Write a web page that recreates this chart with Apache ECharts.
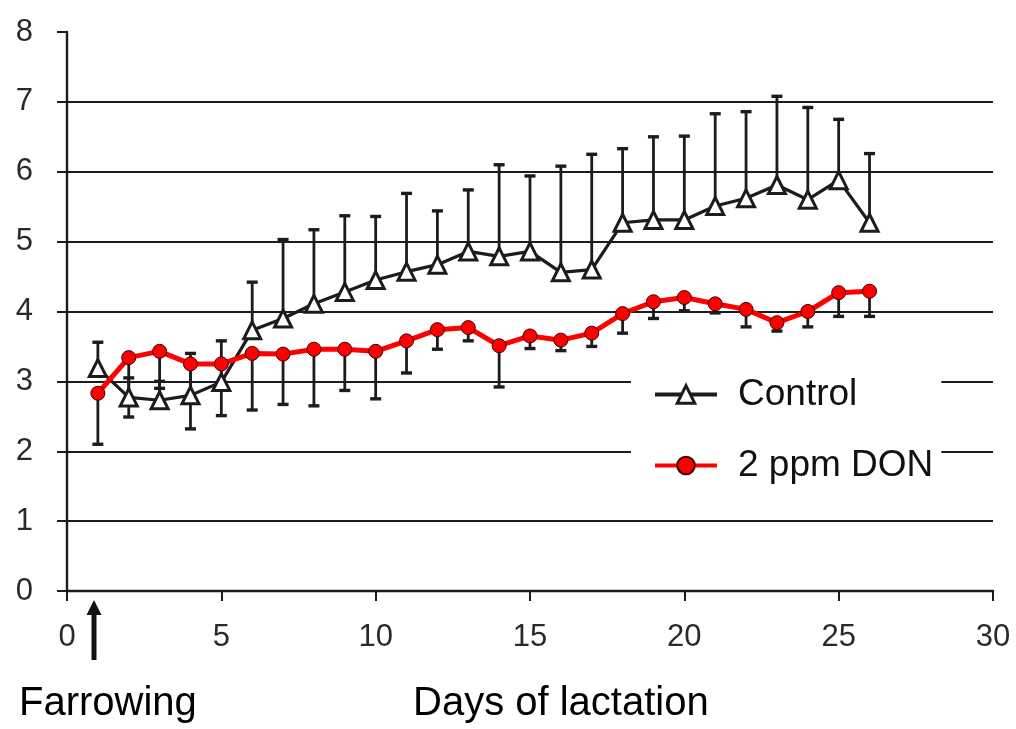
<!DOCTYPE html>
<html>
<head>
<meta charset="utf-8">
<script src="https://cdn.jsdelivr.net/npm/echarts@6/dist/echarts.min.js"></script>
<style>html,body{margin:0;padding:0;background:#fff}#c{width:1016px;height:729px}</style>
</head>
<body>
<div id="c"></div>
<script>
const days = [1,2,3,4,5,6,7,8,9,10,11,12,13,14,15,16,17,18,19,20,21,22,23,24,25,26];
const control = [3.19,2.77,2.73,2.80,2.99,3.73,3.90,4.11,4.28,4.45,4.57,4.67,4.86,4.79,4.86,4.56,4.60,5.27,5.31,5.31,5.51,5.62,5.81,5.60,5.88,5.27];
const controlUpper = [3.56,3.05,3.00,3.40,3.58,4.42,5.03,5.17,5.37,5.36,5.69,5.44,5.74,6.10,5.94,6.08,6.25,6.33,6.50,6.51,6.83,6.86,7.08,6.92,6.75,6.26];
const don = [2.83,3.34,3.43,3.25,3.25,3.40,3.39,3.46,3.46,3.43,3.58,3.74,3.77,3.51,3.65,3.59,3.69,3.97,4.14,4.20,4.11,4.03,3.84,4.00,4.27,4.29];
const donLower = [2.10,2.49,2.90,2.32,2.51,2.59,2.67,2.65,2.87,2.75,3.12,3.46,3.58,2.92,3.47,3.44,3.50,3.69,3.90,4.01,3.98,3.78,3.72,3.78,3.93,3.93];
const seriesNames = ['Control', '2 ppm DON'];
const xTitle = 'Days of lactation';
const eventLabel = 'Farrowing';

const FONT = '"Liberation Sans", Arial, sans-serif';
const INK = '#1c1c1c';

function errBar(params, api) {
  const x = api.value(0);
  const p0 = api.coord([x, api.value(1)]);
  const p1 = api.coord([x, api.value(2)]);
  const cap = 5.5;
  return {
    type: 'group',
    children: [
      {type: 'line', shape: {x1: p0[0], y1: p0[1], x2: p1[0], y2: p1[1]}, style: {stroke: INK, lineWidth: 2.8}},
      {type: 'line', shape: {x1: p1[0] - cap, y1: p1[1], x2: p1[0] + cap, y2: p1[1]}, style: {stroke: INK, lineWidth: 3.4}}
    ]
  };
}

const chart = echarts.init(document.getElementById('c'), null, {renderer: 'canvas'});
const splitColors = ['rgba(0,0,0,0)', INK, INK, INK, INK, INK, INK, INK, 'rgba(0,0,0,0)'];

chart.setOption({
  animation: false,
  backgroundColor: '#fff',
  grid: {left: 67, right: 23, top: 32, bottom: 138, containLabel: false},
  xAxis: {
    type: 'value', min: 0, max: 30, interval: 5,
    axisLine: {show: true, lineStyle: {color: INK, width: 2.4}},
    axisTick: {show: true, length: 10, lineStyle: {color: INK, width: 2}},
    axisLabel: {fontSize: 31, color: '#2a2a2a', fontFamily: FONT, margin: 31},
    splitLine: {show: false}
  },
  yAxis: {
    type: 'value', min: 0, max: 8, interval: 1,
    axisLine: {show: true, lineStyle: {color: INK, width: 2.4}},
    axisTick: {show: true, length: 10, lineStyle: {color: INK, width: 2}},
    axisLabel: {fontSize: 31, color: '#2a2a2a', fontFamily: FONT, margin: 34},
    splitLine: {show: true, lineStyle: {color: splitColors, width: 2.2}}
  },
  legend: {
    orient: 'vertical',
    left: 631, top: 368,
    backgroundColor: '#fff',
    padding: [8, 8, 8, 22],
    itemWidth: 62, itemHeight: 22, itemGap: 34,
    textStyle: {fontSize: 37, color: '#111', fontFamily: FONT, lineHeight: 36, padding: [0, 0, 0, 16]},
    data: [
      {name: seriesNames[0], lineStyle: {width: 4, color: INK}, itemStyle: {borderWidth: 3}},
      {name: seriesNames[1], lineStyle: {width: 4, color: '#ff0000'}}
    ]
  },
  series: [
    {
      type: 'custom', name: 'ctrlErr', z: 1, silent: true,
      renderItem: errBar,
      data: days.map((d, i) => [d, control[i], controlUpper[i]])
    },
    {
      type: 'custom', name: 'donErr', z: 1, silent: true,
      renderItem: errBar,
      data: days.map((d, i) => [d, don[i], donLower[i]])
    },
    {
      type: 'line', name: seriesNames[0], z: 3,
      data: days.map((d, i) => [d, control[i]]),
      symbol: 'triangle', symbolSize: 17,
      lineStyle: {color: INK, width: 3.2},
      itemStyle: {color: '#fff', borderColor: INK, borderWidth: 3}
    },
    {
      type: 'line', name: seriesNames[1], z: 4,
      data: days.map((d, i) => [d, don[i]]),
      symbol: 'circle', symbolSize: 14,
      lineStyle: {color: '#ff0000', width: 5},
      itemStyle: {color: '#ff0000', borderColor: '#3a0000', borderWidth: 1}
    }
  ],
  graphic: [
    {type: 'text', left: 413, top: 684, style: {text: xTitle, fontSize: 40, fill: '#000', fontFamily: FONT}},
    {type: 'text', left: 19, top: 684, style: {text: eventLabel, fontSize: 40, fill: '#000', fontFamily: FONT}},
    {type: 'line', shape: {x1: 94, y1: 660, x2: 94, y2: 612}, style: {stroke: '#111', lineWidth: 5}},
    {type: 'polygon', shape: {points: [[94, 600], [86.5, 615], [101.5, 615]]}, style: {fill: '#111'}}
  ]
});
</script>
</body>
</html>
